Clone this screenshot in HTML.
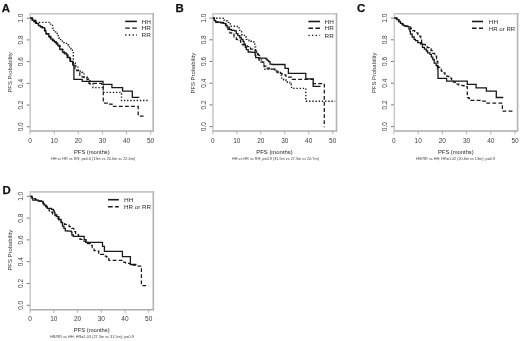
<!DOCTYPE html>
<html><head><meta charset="utf-8"><style>
html,body{margin:0;padding:0;background:#fff;}
body{width:520px;height:341px;overflow:hidden;}
svg{display:block;font-family:"Liberation Sans", sans-serif;filter:grayscale(1) blur(0.35px);}
</style></head><body>
<svg width="520" height="341" viewBox="0 0 520 341">
<rect width="520" height="341" fill="#fff"/>
<path d="M30.2 13.8 H153.2" fill="none" stroke="#c6c6c6" stroke-width="1.6"/>
<path d="M153.2 13 V131" fill="none" stroke="#b4b4b4" stroke-width="1.6"/>
<path d="M30.2 131 H154" fill="none" stroke="#adadad" stroke-width="1.6"/>
<path d="M30.2 13 V131.8" fill="none" stroke="#cbcbcb" stroke-width="1.6"/>
<line x1="26.8" y1="126.8" x2="29.6" y2="126.8" stroke="#777" stroke-width="1"/>
<text x="23.3" y="126.8" transform="rotate(-90 23.3 126.8)" text-anchor="middle" font-size="6.5" fill="#3c3c3c">0.0</text>
<line x1="26.8" y1="105.08" x2="29.6" y2="105.08" stroke="#777" stroke-width="1"/>
<text x="23.3" y="105.08" transform="rotate(-90 23.3 105.08)" text-anchor="middle" font-size="6.5" fill="#3c3c3c">0.2</text>
<line x1="26.8" y1="83.36" x2="29.6" y2="83.36" stroke="#777" stroke-width="1"/>
<text x="23.3" y="83.36" transform="rotate(-90 23.3 83.36)" text-anchor="middle" font-size="6.5" fill="#3c3c3c">0.4</text>
<line x1="26.8" y1="61.64" x2="29.6" y2="61.64" stroke="#777" stroke-width="1"/>
<text x="23.3" y="61.64" transform="rotate(-90 23.3 61.64)" text-anchor="middle" font-size="6.5" fill="#3c3c3c">0.6</text>
<line x1="26.8" y1="39.92" x2="29.6" y2="39.92" stroke="#777" stroke-width="1"/>
<text x="23.3" y="39.92" transform="rotate(-90 23.3 39.92)" text-anchor="middle" font-size="6.5" fill="#3c3c3c">0.8</text>
<line x1="26.8" y1="18.2" x2="29.6" y2="18.2" stroke="#777" stroke-width="1"/>
<text x="23.3" y="18.2" transform="rotate(-90 23.3 18.2)" text-anchor="middle" font-size="6.5" fill="#3c3c3c">1.0</text>
<line x1="30.1" y1="131" x2="30.1" y2="134.2" stroke="#a8a8a8" stroke-width="0.9"/>
<text x="30.1" y="142.5" text-anchor="middle" font-size="6.5" fill="#3c3c3c">0</text>
<line x1="54.2" y1="131" x2="54.2" y2="134.2" stroke="#a8a8a8" stroke-width="0.9"/>
<text x="54.2" y="142.5" text-anchor="middle" font-size="6.5" fill="#3c3c3c">10</text>
<line x1="78.3" y1="131" x2="78.3" y2="134.2" stroke="#a8a8a8" stroke-width="0.9"/>
<text x="78.3" y="142.5" text-anchor="middle" font-size="6.5" fill="#3c3c3c">20</text>
<line x1="102.4" y1="131" x2="102.4" y2="134.2" stroke="#a8a8a8" stroke-width="0.9"/>
<text x="102.4" y="142.5" text-anchor="middle" font-size="6.5" fill="#3c3c3c">30</text>
<line x1="126.5" y1="131" x2="126.5" y2="134.2" stroke="#a8a8a8" stroke-width="0.9"/>
<text x="126.5" y="142.5" text-anchor="middle" font-size="6.5" fill="#3c3c3c">40</text>
<line x1="150.6" y1="131" x2="150.6" y2="134.2" stroke="#a8a8a8" stroke-width="0.9"/>
<text x="150.6" y="142.5" text-anchor="middle" font-size="6.5" fill="#3c3c3c">50</text>
<text x="91.85" y="154.2" text-anchor="middle" font-size="6.0" fill="#222" textLength="35.7" lengthAdjust="spacingAndGlyphs">PFS (months)</text>
<text x="12" y="72.4" transform="rotate(-90 12 72.4)" text-anchor="middle" font-size="6.0" fill="#333" textLength="40.4" lengthAdjust="spacingAndGlyphs">PFS Probability</text>
<text x="93" y="160.1" text-anchor="middle" font-size="4.3" fill="#444" textLength="84.2" lengthAdjust="spacingAndGlyphs">HH vs HR vs RR; p=0.6 (13m vs 20.6m vs 22.4m)</text>
<text x="1.8" y="11.7" font-size="11.4" font-weight="bold" fill="#111" stroke="#111" stroke-width="0.25">A</text>
<path d="M125.2 21.4 H136.9" fill="none" style="stroke:#1a1a1a;stroke-width:1.6"/>
<text x="141.6" y="23.6" font-size="5.7" fill="#2a2a2a" textLength="9.4" lengthAdjust="spacingAndGlyphs">HH</text>
<path d="M125.2 28.1 H136.9" fill="none" style="stroke:#1a1a1a;stroke-width:1.4;stroke-dasharray:4.6 2.4"/>
<text x="141.6" y="30.3" font-size="5.7" fill="#2a2a2a" textLength="9.4" lengthAdjust="spacingAndGlyphs">HR</text>
<path d="M125.2 35 H136.9" fill="none" style="stroke:#1a1a1a;stroke-width:1.3;stroke-dasharray:1.3 2.35"/>
<text x="141.6" y="37.2" font-size="5.7" fill="#2a2a2a" textLength="9.4" lengthAdjust="spacingAndGlyphs">RR</text>
<path d="M30.2 18.2 H32.3 V20.1 H33.95 V21.75 H35.6 V23.4 H38.4 V25.7 H40.3 V26.65 H42.2 V27.6 H44.5 V30.4 H45.9 V33.7 H48.8 V36.5 H50.6 V38.9 H52.5 V40.3 H54.4 V41.7 H56.1 V43.5 H57.8 V45.3 H59.7 V49.1 H62.5 V51.9 H64.4 V53.05 H66.3 V54.2 H67.2 V57.5 H70 V61.3 H72.8 V65 H73.9 V67 V79.3 H82.2 V81.4 H103 V84.4 H111.9 V87.7 H122.6 V91.1 H132.3 V97.3 H139.3" fill="none" style="stroke:#181818;stroke-width:1.3"/>
<path d="M30.2 18.2 H32.6 V20.3 H35.8 V23.6 H38.6 V25.9 H40.5 V26.95 H42.4 V28 H44.8 V31 H46.4 V34 H49.4 V37 H51.2 V39.4 H53.1 V40.9 H55 V42.4 H56.7 V44.2 H58.4 V46 H60.3 V49.6 H63 V52.6 H64.9 V53.8 H66.8 V55 H68 V58.5 H70.6 V62 H73.2 V65.5 H75 V68.5 H76.5 V70.5 H79.8 V72 V76.4 H81.9 V76.95 H84 V77.5 H87 V79.5 H89 V83.4 H101.6 V86 H103.3 V103 H108 V104.2 H112 V106.4 H138.2 V116 H144.4" fill="none" style="stroke:#181818;stroke-width:1.25;stroke-dasharray:3.8 2.3"/>
<path d="M30.2 18.2 H32 V20 H34.5 V21.2 H36.5 V22.3 H49.2 H50.6 V25.3 H52.5 V28.1 H53.9 V30.4 H55.3 V31.8 H57.2 V35.6 H59.1 V38.4 H60.6 V41.1 H63.5 V42.6 H66.5 V45 H68.6 V46.9 H71 V49.1 H72.4 V51.9 H73.3 V54.7 V63 H75.2 V66 H78 V70 H80 V71.1 H82 V72.2 H84 V76.9 H87 V79 H90 V84 H93 V87.6 H103.2 V92.4 H121.5 V100.5 H149.1" fill="none" style="stroke:#181818;stroke-width:1.35;stroke-dasharray:1.35 1.85"/>
<path d="M212.9 13.8 H336.5" fill="none" stroke="#c6c6c6" stroke-width="1.6"/>
<path d="M336.5 13 V131" fill="none" stroke="#b4b4b4" stroke-width="1.6"/>
<path d="M212.9 131 H337.3" fill="none" stroke="#adadad" stroke-width="1.6"/>
<path d="M212.9 13 V131.8" fill="none" stroke="#cbcbcb" stroke-width="1.6"/>
<line x1="209.5" y1="126.6" x2="212.3" y2="126.6" stroke="#777" stroke-width="1"/>
<text x="206" y="126.6" transform="rotate(-90 206 126.6)" text-anchor="middle" font-size="6.5" fill="#3c3c3c">0.0</text>
<line x1="209.5" y1="104.9" x2="212.3" y2="104.9" stroke="#777" stroke-width="1"/>
<text x="206" y="104.9" transform="rotate(-90 206 104.9)" text-anchor="middle" font-size="6.5" fill="#3c3c3c">0.2</text>
<line x1="209.5" y1="83.2" x2="212.3" y2="83.2" stroke="#777" stroke-width="1"/>
<text x="206" y="83.2" transform="rotate(-90 206 83.2)" text-anchor="middle" font-size="6.5" fill="#3c3c3c">0.4</text>
<line x1="209.5" y1="61.5" x2="212.3" y2="61.5" stroke="#777" stroke-width="1"/>
<text x="206" y="61.5" transform="rotate(-90 206 61.5)" text-anchor="middle" font-size="6.5" fill="#3c3c3c">0.6</text>
<line x1="209.5" y1="39.8" x2="212.3" y2="39.8" stroke="#777" stroke-width="1"/>
<text x="206" y="39.8" transform="rotate(-90 206 39.8)" text-anchor="middle" font-size="6.5" fill="#3c3c3c">0.8</text>
<line x1="209.5" y1="18.1" x2="212.3" y2="18.1" stroke="#777" stroke-width="1"/>
<text x="206" y="18.1" transform="rotate(-90 206 18.1)" text-anchor="middle" font-size="6.5" fill="#3c3c3c">1.0</text>
<line x1="212.9" y1="131" x2="212.9" y2="134.2" stroke="#a8a8a8" stroke-width="0.9"/>
<text x="212.9" y="142.5" text-anchor="middle" font-size="6.5" fill="#3c3c3c">0</text>
<line x1="236.86" y1="131" x2="236.86" y2="134.2" stroke="#a8a8a8" stroke-width="0.9"/>
<text x="236.86" y="142.5" text-anchor="middle" font-size="6.5" fill="#3c3c3c">10</text>
<line x1="260.82" y1="131" x2="260.82" y2="134.2" stroke="#a8a8a8" stroke-width="0.9"/>
<text x="260.82" y="142.5" text-anchor="middle" font-size="6.5" fill="#3c3c3c">20</text>
<line x1="284.78" y1="131" x2="284.78" y2="134.2" stroke="#a8a8a8" stroke-width="0.9"/>
<text x="284.78" y="142.5" text-anchor="middle" font-size="6.5" fill="#3c3c3c">30</text>
<line x1="308.74" y1="131" x2="308.74" y2="134.2" stroke="#a8a8a8" stroke-width="0.9"/>
<text x="308.74" y="142.5" text-anchor="middle" font-size="6.5" fill="#3c3c3c">40</text>
<line x1="332.7" y1="131" x2="332.7" y2="134.2" stroke="#a8a8a8" stroke-width="0.9"/>
<text x="332.7" y="142.5" text-anchor="middle" font-size="6.5" fill="#3c3c3c">50</text>
<text x="274.45" y="154.3" text-anchor="middle" font-size="6.0" fill="#222" textLength="36.3" lengthAdjust="spacingAndGlyphs">PFS (months)</text>
<text x="194.8" y="73.15" transform="rotate(-90 194.8 73.15)" text-anchor="middle" font-size="6.0" fill="#333" textLength="40.7" lengthAdjust="spacingAndGlyphs">PFS Probability</text>
<text x="275.45" y="159.7" text-anchor="middle" font-size="4.3" fill="#444" textLength="86.9" lengthAdjust="spacingAndGlyphs">HH vs HR vs RR; p=0.9 (31.5m vs 27.3m vs 20.7m)</text>
<text x="175.6" y="11.7" font-size="11.4" font-weight="bold" fill="#111" stroke="#111" stroke-width="0.25">B</text>
<path d="M308.4 21.5 H320" fill="none" style="stroke:#1a1a1a;stroke-width:1.6"/>
<text x="324.6" y="23.7" font-size="5.7" fill="#2a2a2a" textLength="9.2" lengthAdjust="spacingAndGlyphs">HH</text>
<path d="M308.4 28.2 H320" fill="none" style="stroke:#1a1a1a;stroke-width:1.4;stroke-dasharray:4.6 2.4"/>
<text x="324.6" y="30.4" font-size="5.7" fill="#2a2a2a" textLength="9.2" lengthAdjust="spacingAndGlyphs">HR</text>
<path d="M308.4 35.3 H320" fill="none" style="stroke:#1a1a1a;stroke-width:1.3;stroke-dasharray:1.3 2.35"/>
<text x="324.6" y="37.5" font-size="5.7" fill="#2a2a2a" textLength="9.2" lengthAdjust="spacingAndGlyphs">RR</text>
<path d="M212.9 18.2 H214.3 V20.6 H215.7 V22 H218.05 V22.2 H220.4 V22.4 H223.2 V23.4 H225.5 V25.3 H227 V27.1 H229.3 V29.5 H231.6 V30.4 H234.5 V30.9 H236.3 V33.7 H237.9 V35.6 H239.8 V37.5 H241.2 V39.4 H243 V41.3 H244 V44.1 H245.4 V47.4 H246.3 V49.7 H248.2 V52 H250.23 V52.17 H252.27 V52.33 H254.3 V52.5 H255.2 V55.3 H255.7 V57.7 H258.5 V58.1 H260.37 V58.1 H262.23 V58.1 H264.1 V58.1 H266 V59.1 H267.2 V60.3 H268.6 V61.7 H270 V64.1 H272 V64.5 H285 V68.4 H288.4 V73.3 H305.8 V78.8 H313.2 V86.4 H320.5" fill="none" style="stroke:#181818;stroke-width:1.3"/>
<path d="M212.9 18.2 H214.5 V20.8 H216 V22.3 H218.3 V22.55 H220.6 V22.8 H223.4 V23.8 H226 V25.7 H227.9 V29.25 H229.8 V32.8 H231.6 V34.2 H234 V37.9 H236.3 V39.3 H237.4 V40.3 H240.7 V43.6 H242.35 V44.55 H244 V45.5 H247 V46.5 H249.6 V47.8 H250.5 V49.2 H252.75 V50.1 H255 V51 H257.5 V54.5 H258.5 V56 H259 V60 H261 V62 H264 V66 H267 V68 H269.5 V68.5 H272 V69 H275.1 V69.2 H277 V72.5 H279.8 V73 H281.45 V73.95 H283.1 V74.9 H285.9 V77.2 H292.2 V79.3 H313.4 V83.6 H324.3 V127.3" fill="none" style="stroke:#181818;stroke-width:1.25;stroke-dasharray:3.8 2.3"/>
<path d="M212.9 18.2 H223.2 H224.1 V20.1 H227 V21 H228.4 V22.4 H230.2 V23.8 H231.2 V26.2 H232.85 V26.2 H234.5 V26.2 H236.35 V26.45 H238.2 V26.7 H239.1 V29 H239.8 V31.4 H241.6 V34.7 H244.4 V37 H246.3 V39.4 H249.1 V40.8 H250.75 V41.25 H252.4 V41.7 H253.8 V44.1 H254.8 V46.9 H255.7 V49.7 H256.6 V52.5 H258 V55.3 H259.5 V58.1 H261.5 V62 H263.9 V66.4 H264.3 V69.2 H271.4 H273.05 V69.45 H274.7 V69.7 H276.1 V72 H278.4 V72.5 H280.3 V75.3 H281.7 V78.1 H283.6 V80 H286 V80.5 H287.4 V82.2 H289.8 V84 H291.2 V85.5 H291.6 V88.3 H305.8 V101.2 H335.2" fill="none" style="stroke:#181818;stroke-width:1.35;stroke-dasharray:1.35 1.85"/>
<path d="M394.3 13.8 H517.6" fill="none" stroke="#c6c6c6" stroke-width="1.6"/>
<path d="M517.6 13 V131" fill="none" stroke="#b4b4b4" stroke-width="1.6"/>
<path d="M394.3 131 H518.4" fill="none" stroke="#adadad" stroke-width="1.6"/>
<path d="M394.3 13 V131.8" fill="none" stroke="#cbcbcb" stroke-width="1.6"/>
<line x1="390.9" y1="126.6" x2="393.7" y2="126.6" stroke="#777" stroke-width="1"/>
<text x="387.4" y="126.6" transform="rotate(-90 387.4 126.6)" text-anchor="middle" font-size="6.5" fill="#3c3c3c">0.0</text>
<line x1="390.9" y1="104.9" x2="393.7" y2="104.9" stroke="#777" stroke-width="1"/>
<text x="387.4" y="104.9" transform="rotate(-90 387.4 104.9)" text-anchor="middle" font-size="6.5" fill="#3c3c3c">0.2</text>
<line x1="390.9" y1="83.2" x2="393.7" y2="83.2" stroke="#777" stroke-width="1"/>
<text x="387.4" y="83.2" transform="rotate(-90 387.4 83.2)" text-anchor="middle" font-size="6.5" fill="#3c3c3c">0.4</text>
<line x1="390.9" y1="61.5" x2="393.7" y2="61.5" stroke="#777" stroke-width="1"/>
<text x="387.4" y="61.5" transform="rotate(-90 387.4 61.5)" text-anchor="middle" font-size="6.5" fill="#3c3c3c">0.6</text>
<line x1="390.9" y1="39.8" x2="393.7" y2="39.8" stroke="#777" stroke-width="1"/>
<text x="387.4" y="39.8" transform="rotate(-90 387.4 39.8)" text-anchor="middle" font-size="6.5" fill="#3c3c3c">0.8</text>
<line x1="390.9" y1="18.1" x2="393.7" y2="18.1" stroke="#777" stroke-width="1"/>
<text x="387.4" y="18.1" transform="rotate(-90 387.4 18.1)" text-anchor="middle" font-size="6.5" fill="#3c3c3c">1.0</text>
<line x1="393.9" y1="131" x2="393.9" y2="134.2" stroke="#a8a8a8" stroke-width="0.9"/>
<text x="393.9" y="142.5" text-anchor="middle" font-size="6.5" fill="#3c3c3c">0</text>
<line x1="418.14" y1="131" x2="418.14" y2="134.2" stroke="#a8a8a8" stroke-width="0.9"/>
<text x="418.14" y="142.5" text-anchor="middle" font-size="6.5" fill="#3c3c3c">10</text>
<line x1="442.38" y1="131" x2="442.38" y2="134.2" stroke="#a8a8a8" stroke-width="0.9"/>
<text x="442.38" y="142.5" text-anchor="middle" font-size="6.5" fill="#3c3c3c">20</text>
<line x1="466.62" y1="131" x2="466.62" y2="134.2" stroke="#a8a8a8" stroke-width="0.9"/>
<text x="466.62" y="142.5" text-anchor="middle" font-size="6.5" fill="#3c3c3c">30</text>
<line x1="490.86" y1="131" x2="490.86" y2="134.2" stroke="#a8a8a8" stroke-width="0.9"/>
<text x="490.86" y="142.5" text-anchor="middle" font-size="6.5" fill="#3c3c3c">40</text>
<line x1="515.1" y1="131" x2="515.1" y2="134.2" stroke="#a8a8a8" stroke-width="0.9"/>
<text x="515.1" y="142.5" text-anchor="middle" font-size="6.5" fill="#3c3c3c">50</text>
<text x="455.85" y="154.3" text-anchor="middle" font-size="6.0" fill="#222" textLength="35.7" lengthAdjust="spacingAndGlyphs">PFS (months)</text>
<text x="376.5" y="72.85" transform="rotate(-90 376.5 72.85)" text-anchor="middle" font-size="6.0" fill="#333" textLength="40.5" lengthAdjust="spacingAndGlyphs">PFS Probability</text>
<text x="455.5" y="159.7" text-anchor="middle" font-size="4.3" fill="#444" textLength="79.2" lengthAdjust="spacingAndGlyphs">HR/RR vs HH; HR=1.02 (20.6m vs 13m); p=0.9</text>
<text x="357" y="11.7" font-size="11.4" font-weight="bold" fill="#111" stroke="#111" stroke-width="0.25">C</text>
<path d="M472 21.5 H483" fill="none" style="stroke:#1a1a1a;stroke-width:1.6"/>
<text x="488.8" y="23.7" font-size="5.7" fill="#2a2a2a" textLength="9.2" lengthAdjust="spacingAndGlyphs">HH</text>
<path d="M472 28.3 H483" fill="none" style="stroke:#1a1a1a;stroke-width:1.4;stroke-dasharray:4.6 2.4"/>
<text x="488.8" y="30.5" font-size="5.7" fill="#2a2a2a" textLength="26.4" lengthAdjust="spacingAndGlyphs">HR or RR</text>
<path d="M394.4 18 H396.8 V19.6 H398.6 V21.5 H400.5 V23.4 H402.4 V24.8 H403.8 V25.7 H405.45 V26.2 H407.1 V26.7 H409 V29 H409.9 V31.4 H410.4 V34.2 H412.2 V37 H414.1 V39.3 H415.5 V40.7 H417.8 V42.6 H420.6 V44 H422.5 V47.3 H424.4 V49.1 H426.3 V51 H427.7 V52.9 H430 V54.3 H431.4 V57.1 H432.8 V59.5 H434.2 V63.2 H436.1 V65.5 H437.5 V68.3 H438 V78.4 H446.6 V81.1 H467.3 V84.3 H476.1 V87.8 H486.4 V91.2 H496.3 V97.5 H503.3" fill="none" style="stroke:#181818;stroke-width:1.3"/>
<path d="M394.4 18 H397 V19.8 H399 V21.7 H401 V23.6 H403 V25 H405 V26 H408 V27 H410.8 V28.5 H412.7 V30.65 H414.6 V32.8 H417.9 V36 H420.7 V39.3 H421.6 V42.6 H423.45 V44.45 H425.3 V46.3 H427.2 V47.5 H429.1 V48.7 H431 V50.5 H432.8 V53.4 H434.7 V56.2 H436.6 V58.5 H437.2 V61.3 H437.8 V64.1 H438.4 V67.4 H441.3 V71.1 H443.15 V72.75 H445 V74.4 H446.9 V76.3 H448.8 V78.2 H451.6 V81 H453.45 V82.15 H455.3 V83.3 H457.05 V84.2 H458.8 V85.1 H460.65 V85.35 H462.5 V85.6 H464.15 V86.05 H465.8 V86.5 H467.3 V87.5 V97.7 H469 V98.6 H471 V100.4 H480 V101.1 H486.2 V103 H502.4 V111.2 H513.3" fill="none" style="stroke:#181818;stroke-width:1.25;stroke-dasharray:3.8 2.3"/>
<path d="M30.2 191.9 H153.3" fill="none" stroke="#c6c6c6" stroke-width="1.6"/>
<path d="M153.3 191.1 V309.7" fill="none" stroke="#b4b4b4" stroke-width="1.6"/>
<path d="M30.2 309.7 H154.1" fill="none" stroke="#adadad" stroke-width="1.6"/>
<path d="M30.2 191.1 V310.5" fill="none" stroke="#cbcbcb" stroke-width="1.6"/>
<line x1="26.8" y1="305.3" x2="29.6" y2="305.3" stroke="#777" stroke-width="1"/>
<text x="23.3" y="305.3" transform="rotate(-90 23.3 305.3)" text-anchor="middle" font-size="6.5" fill="#3c3c3c">0.0</text>
<line x1="26.8" y1="283.5" x2="29.6" y2="283.5" stroke="#777" stroke-width="1"/>
<text x="23.3" y="283.5" transform="rotate(-90 23.3 283.5)" text-anchor="middle" font-size="6.5" fill="#3c3c3c">0.2</text>
<line x1="26.8" y1="261.7" x2="29.6" y2="261.7" stroke="#777" stroke-width="1"/>
<text x="23.3" y="261.7" transform="rotate(-90 23.3 261.7)" text-anchor="middle" font-size="6.5" fill="#3c3c3c">0.4</text>
<line x1="26.8" y1="239.9" x2="29.6" y2="239.9" stroke="#777" stroke-width="1"/>
<text x="23.3" y="239.9" transform="rotate(-90 23.3 239.9)" text-anchor="middle" font-size="6.5" fill="#3c3c3c">0.6</text>
<line x1="26.8" y1="218.1" x2="29.6" y2="218.1" stroke="#777" stroke-width="1"/>
<text x="23.3" y="218.1" transform="rotate(-90 23.3 218.1)" text-anchor="middle" font-size="6.5" fill="#3c3c3c">0.8</text>
<line x1="26.8" y1="196.3" x2="29.6" y2="196.3" stroke="#777" stroke-width="1"/>
<text x="23.3" y="196.3" transform="rotate(-90 23.3 196.3)" text-anchor="middle" font-size="6.5" fill="#3c3c3c">1.0</text>
<line x1="30.1" y1="309.7" x2="30.1" y2="312.9" stroke="#a8a8a8" stroke-width="0.9"/>
<text x="30.1" y="321.2" text-anchor="middle" font-size="6.5" fill="#3c3c3c">0</text>
<line x1="53.82" y1="309.7" x2="53.82" y2="312.9" stroke="#a8a8a8" stroke-width="0.9"/>
<text x="53.82" y="321.2" text-anchor="middle" font-size="6.5" fill="#3c3c3c">10</text>
<line x1="77.54" y1="309.7" x2="77.54" y2="312.9" stroke="#a8a8a8" stroke-width="0.9"/>
<text x="77.54" y="321.2" text-anchor="middle" font-size="6.5" fill="#3c3c3c">20</text>
<line x1="101.26" y1="309.7" x2="101.26" y2="312.9" stroke="#a8a8a8" stroke-width="0.9"/>
<text x="101.26" y="321.2" text-anchor="middle" font-size="6.5" fill="#3c3c3c">30</text>
<line x1="124.98" y1="309.7" x2="124.98" y2="312.9" stroke="#a8a8a8" stroke-width="0.9"/>
<text x="124.98" y="321.2" text-anchor="middle" font-size="6.5" fill="#3c3c3c">40</text>
<line x1="148.7" y1="309.7" x2="148.7" y2="312.9" stroke="#a8a8a8" stroke-width="0.9"/>
<text x="148.7" y="321.2" text-anchor="middle" font-size="6.5" fill="#3c3c3c">50</text>
<text x="91.75" y="332.4" text-anchor="middle" font-size="6.0" fill="#222" textLength="35.9" lengthAdjust="spacingAndGlyphs">PFS (months)</text>
<text x="12.1" y="250.25" transform="rotate(-90 12.1 250.25)" text-anchor="middle" font-size="6.0" fill="#333" textLength="40.7" lengthAdjust="spacingAndGlyphs">PFS Probability</text>
<text x="91.9" y="338.3" text-anchor="middle" font-size="4.3" fill="#444" textLength="84" lengthAdjust="spacingAndGlyphs">HR/RR vs HH; HR=1.03 (27.3m vs 31.5m); p=0.9</text>
<text x="2.6" y="194.4" font-size="11.4" font-weight="bold" fill="#111" stroke="#111" stroke-width="0.25">D</text>
<path d="M108.1 199.7 H118.8" fill="none" style="stroke:#1a1a1a;stroke-width:1.6"/>
<text x="124" y="201.9" font-size="5.7" fill="#2a2a2a" textLength="9.4" lengthAdjust="spacingAndGlyphs">HH</text>
<path d="M108.1 206.7 H118.8" fill="none" style="stroke:#1a1a1a;stroke-width:1.4;stroke-dasharray:4.6 2.4"/>
<text x="124" y="208.9" font-size="5.7" fill="#2a2a2a" textLength="27" lengthAdjust="spacingAndGlyphs">HR or RR</text>
<path d="M30.3 196.3 H31.8 V198.1 H32.8 V200.2 H35.6 V200.2 H38.4 V200.9 H41.2 V201.4 H43.1 V203.3 H44 V205.1 H45.9 V206.5 H47.3 V208.4 H49.2 V208.4 H51.5 V209.4 H53.4 V210.8 H54.3 V212.6 H55 V214.8 H56.9 V216.7 H58.8 V219.5 H61.1 V222.3 H62.5 V226.1 H63.9 V228.4 H65.3 V230.8 H67.7 V231.2 H70 V231.2 H71.4 V232.2 H71.9 V235 H73.3 V236.4 H84.2 V239.7 H86.1 V242.4 H102.5 V246.3 H104.4 V251.4 H122.4 V256.6 H130.4 V264.5 H136.5" fill="none" style="stroke:#181818;stroke-width:1.3"/>
<path d="M30.3 196.3 H32 V197.5 H34.6 V198.6 H35.6 V199.5 H38.4 V201.2 H41.2 V201.7 H43.1 V203.6 H44 V205.4 H45.9 V206.8 H47.3 V208.7 H49.2 V210.8 H50.6 V212.2 H52.5 V214.5 H54.3 V215 H56.2 V216.4 H57.1 V218.3 H58.8 V219.8 H61.1 V222.6 H62.5 V223.7 H64.4 V224.4 H66.3 V225.1 H69.1 V226.5 H71.9 V228.4 H73.8 V231.7 H75.6 V234.5 H78.5 V236.4 H80 V239.3 H81.9 V240.2 H83.8 V241.1 H85.65 V242.3 H87.5 V243.5 H90.3 V245.4 H92.2 V247.7 H94.1 V250.5 H96.9 V251 H98.8 V253.3 H100.6 V254.3 H103.5 V256.1 H106.3 V256.6 H106.9 V257.2 H108.8 V260.3 H121.9 H123.8 V262.4 H125.65 V262.85 H127.5 V263.3 H130.3 V264.2 H133.1 V265.2 H136 V266 H141.4 V285.5 H148.7" fill="none" style="stroke:#181818;stroke-width:1.25;stroke-dasharray:3.8 2.3"/>
</svg>
</body></html>
